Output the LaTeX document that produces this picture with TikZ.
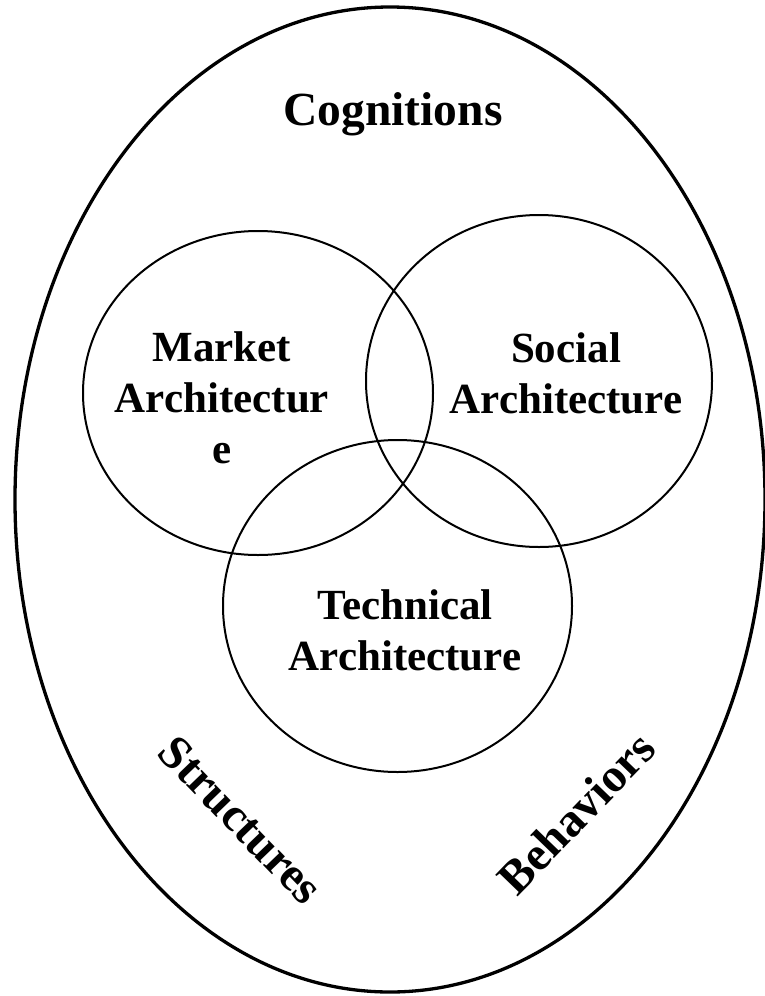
\documentclass[tikz,border=0pt]{standalone}
\usepackage{fontspec}
\setmainfont{Liberation Serif}
\usetikzlibrary{positioning}
\tikzset{
  rim/.style={draw=black,line width=3.3pt},
  ring/.style={draw=black,line width=2pt},
  lbl/.style={font=\fontsize{43}{51}\selectfont\bfseries,align=center,inner sep=0pt},
  bigl/.style={font=\fontsize{47.5}{56}\selectfont\bfseries,inner sep=0pt}}

\begin{document}
\begin{tikzpicture}[x=1pt,y=-1pt]
  \useasboundingbox (0,0) rectangle (765,996);
  % outer egg and the three overlapping rings
  \draw[rim] (390,499.5) ellipse [x radius=375,y radius=492.5];
  \draw[ring] (258,393) ellipse [x radius=175,y radius=162];
  \draw[ring] (539,381) ellipse [x radius=173,y radius=166];
  \draw[ring] (397.5,606) ellipse [x radius=174.5,y radius=166];
  % labels
  \node[bigl,anchor=base] (cognitions) at (393,125) {Cognitions};
  \node[lbl] (market) at (222,398) {Market\\Architectur\\e};
  \node[lbl] (social) at (566,373) {Social\\Architecture};
  \node[lbl] (technical) at (405,630) {Technical\\Architecture};
  \node[bigl,rotate=-46] (structures) at (241,820) {Structures};
  \node[bigl,rotate=46] (behaviors) at (576,813) {Behaviors};
\end{tikzpicture}
\end{document}
